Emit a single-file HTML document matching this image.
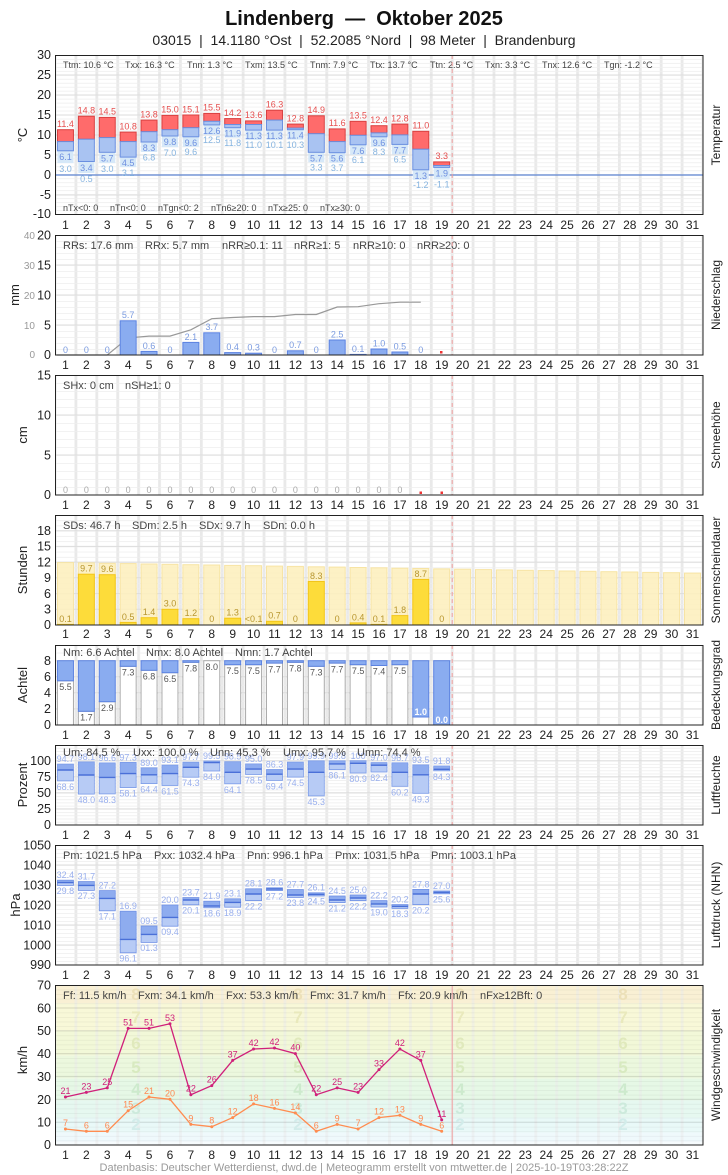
<!DOCTYPE html>
<html><head><meta charset="utf-8"><style>
html,body{margin:0;padding:0;background:#fff;}
svg{display:block;font-family:"Liberation Sans",Arial,sans-serif;}
.tk{font-size:12.5px;fill:#222;text-anchor:end}
.tk2{font-size:10px;fill:#999;text-anchor:end}
.dl{font-size:12px;fill:#222;text-anchor:middle}
.st{font-size:11px;fill:#444}
.st9{font-size:9px;fill:#444}
.yt{font-size:13px;fill:#222;text-anchor:middle}
.rt{font-size:12px;fill:#222;text-anchor:middle}
.tr{font-size:9px;fill:#e65050;text-anchor:middle}
.tb{font-size:9px;fill:#6d8fe0;text-anchor:middle}
.tg{font-size:9px;fill:#86b4e0;text-anchor:middle}
.pb{font-size:9px;fill:#7b9be0;text-anchor:middle}
.sl{font-size:9px;fill:#b8962e;text-anchor:middle}
.cl{font-size:9px;fill:#555;text-anchor:middle}
.cw{font-size:9px;fill:#fff;font-weight:bold;text-anchor:middle}
.hl{font-size:9px;fill:#9ab0ee;text-anchor:middle}
.wg{font-size:9px;fill:#d0207a;text-anchor:middle}
.wm{font-size:9px;fill:#ff8850;text-anchor:middle}
.bn{font-size:17px;font-weight:bold;text-anchor:middle}
</style></head><body>
<svg width="728" height="1175" viewBox="0 0 728 1175" xmlns="http://www.w3.org/2000/svg">
<defs>
<pattern id="vg" x="53.6" y="0" width="20.903" height="200" patternUnits="userSpaceOnUse"><rect width="2.8" height="200" fill="#e9e9e9"/></pattern>
<pattern id="hT" x="0" y="214" width="728" height="3.975" patternUnits="userSpaceOnUse"><rect width="728" height="0.8" fill="#eeeeee"/></pattern>
<pattern id="hP" x="0" y="355" width="728" height="6" patternUnits="userSpaceOnUse"><rect width="728" height="0.8" fill="#eeeeee"/></pattern>
<pattern id="hS" x="0" y="495" width="728" height="8" patternUnits="userSpaceOnUse"><rect width="728" height="0.8" fill="#eeeeee"/></pattern>
<pattern id="hSo" x="0" y="625" width="728" height="5.24" patternUnits="userSpaceOnUse"><rect width="728" height="0.8" fill="#eeeeee"/></pattern>
<pattern id="hC" x="0" y="725" width="728" height="8.04" patternUnits="userSpaceOnUse"><rect width="728" height="0.8" fill="#eeeeee"/></pattern>
<pattern id="hH" x="0" y="825" width="728" height="3.215" patternUnits="userSpaceOnUse"><rect width="728" height="0.8" fill="#eeeeee"/></pattern>
<pattern id="hD" x="0" y="965" width="728" height="4" patternUnits="userSpaceOnUse"><rect width="728" height="0.8" fill="#eeeeee"/></pattern>
<pattern id="hW" x="0" y="1145" width="728" height="4.572" patternUnits="userSpaceOnUse"><rect width="728" height="0.8" fill="rgba(0,0,0,0.05)"/></pattern>
</defs>

<!-- Header -->
<text x="364" y="25" text-anchor="middle" style="font-size:20px;font-weight:bold;fill:#111">Lindenberg&#160; — &#160;Oktober 2025</text>
<text x="364" y="45" text-anchor="middle" style="font-size:14px;fill:#222">03015&#160; |&#160; 14.1180 °Ost&#160; |&#160; 52.2085 °Nord&#160; |&#160; 98 Meter&#160; |&#160; Brandenburg</text>

<!-- ============ TEMPERATUR ============ -->
<rect x="55" y="55" width="648" height="159" fill="url(#vg)"/>
<rect x="55" y="55" width="648" height="159" fill="url(#hT)"/>
<g stroke="#dddddd" stroke-width="1">
<line x1="55" x2="703" y1="75" y2="75"/><line x1="55" x2="703" y1="95" y2="95"/><line x1="55" x2="703" y1="115" y2="115"/><line x1="55" x2="703" y1="135" y2="135"/><line x1="55" x2="703" y1="155" y2="155"/><line x1="55" x2="703" y1="195" y2="195"/>
</g>
<line x1="55" x2="703" y1="175" y2="175" stroke="#5b82d0" stroke-width="1.2"/>
<g stroke-width="1">
<rect x="57.45" y="150.8" width="16" height="12.3" fill="#d6e8f8"/><rect x="57.45" y="129.7" width="16" height="11.9" fill="#ff6b6b" stroke="#d84040"/><rect x="57.45" y="141.6" width="16" height="9.2" fill="#a9c3f2" stroke="#6a8fe0"/>
<rect x="78.35" y="161.5" width="16" height="11.5" fill="#d6e8f8"/><rect x="78.35" y="116.2" width="16" height="23" fill="#ff6b6b" stroke="#d84040"/><rect x="78.35" y="139.2" width="16" height="22.3" fill="#a9c3f2" stroke="#6a8fe0"/>
<rect x="99.26" y="152.3" width="16" height="10.8" fill="#d6e8f8"/><rect x="99.26" y="117.4" width="16" height="20.2" fill="#ff6b6b" stroke="#d84040"/><rect x="99.26" y="137.6" width="16" height="14.7" fill="#a9c3f2" stroke="#6a8fe0"/>
<rect x="120.16" y="157.1" width="16" height="10" fill="#d6e8f8"/><rect x="120.16" y="132.1" width="16" height="9.5" fill="#ff6b6b" stroke="#d84040"/><rect x="120.16" y="141.6" width="16" height="15.5" fill="#a9c3f2" stroke="#6a8fe0"/>
<rect x="141.06" y="142" width="16" height="10" fill="#d6e8f8"/><rect x="141.06" y="120.1" width="16" height="11.6" fill="#ff6b6b" stroke="#d84040"/><rect x="141.06" y="131.7" width="16" height="10.3" fill="#a9c3f2" stroke="#6a8fe0"/>
<rect x="161.97" y="136" width="16" height="11.2" fill="#d6e8f8"/><rect x="161.97" y="115.4" width="16" height="14.3" fill="#ff6b6b" stroke="#d84040"/><rect x="161.97" y="129.7" width="16" height="6.3" fill="#a9c3f2" stroke="#6a8fe0"/>
<rect x="182.87" y="136.8" width="16" height="10" fill="#d6e8f8"/><rect x="182.87" y="115" width="16" height="12.7" fill="#ff6b6b" stroke="#d84040"/><rect x="182.87" y="127.7" width="16" height="9.1" fill="#a9c3f2" stroke="#6a8fe0"/>
<rect x="203.77" y="124.9" width="16" height="10" fill="#d6e8f8"/><rect x="203.77" y="113.4" width="16" height="7.9" fill="#ff6b6b" stroke="#d84040"/><rect x="203.77" y="121.3" width="16" height="3.6" fill="#a9c3f2" stroke="#6a8fe0"/>
<rect x="224.68" y="127.7" width="16" height="10" fill="#d6e8f8"/><rect x="224.68" y="118.6" width="16" height="5.9" fill="#ff6b6b" stroke="#d84040"/><rect x="224.68" y="124.5" width="16" height="3.2" fill="#a9c3f2" stroke="#6a8fe0"/>
<rect x="245.58" y="130.1" width="16" height="10" fill="#d6e8f8"/><rect x="245.58" y="120.9" width="16" height="3.6" fill="#ff6b6b" stroke="#d84040"/><rect x="245.58" y="124.5" width="16" height="5.6" fill="#a9c3f2" stroke="#6a8fe0"/>
<rect x="266.48" y="130.1" width="16" height="10" fill="#d6e8f8"/><rect x="266.48" y="110.2" width="16" height="9.9" fill="#ff6b6b" stroke="#d84040"/><rect x="266.48" y="120.1" width="16" height="10" fill="#a9c3f2" stroke="#6a8fe0"/>
<rect x="287.39" y="129.7" width="16" height="10" fill="#d6e8f8"/><rect x="287.39" y="124.1" width="16" height="4" fill="#ff6b6b" stroke="#d84040"/><rect x="287.39" y="128.1" width="16" height="1.6" fill="#a9c3f2" stroke="#6a8fe0"/>
<rect x="308.29" y="152.3" width="16" height="10" fill="#d6e8f8"/><rect x="308.29" y="115.8" width="16" height="17.9" fill="#ff6b6b" stroke="#d84040"/><rect x="308.29" y="133.7" width="16" height="18.6" fill="#a9c3f2" stroke="#6a8fe0"/>
<rect x="329.19" y="152.7" width="16" height="10" fill="#d6e8f8"/><rect x="329.19" y="128.9" width="16" height="12.7" fill="#ff6b6b" stroke="#d84040"/><rect x="329.19" y="141.6" width="16" height="11.1" fill="#a9c3f2" stroke="#6a8fe0"/>
<rect x="350.1" y="144.8" width="16" height="10" fill="#d6e8f8"/><rect x="350.1" y="121.3" width="16" height="14" fill="#ff6b6b" stroke="#d84040"/><rect x="350.1" y="135.3" width="16" height="9.5" fill="#a9c3f2" stroke="#6a8fe0"/>
<rect x="371" y="136.8" width="16" height="10" fill="#d6e8f8"/><rect x="371" y="125.7" width="16" height="7.2" fill="#ff6b6b" stroke="#d84040"/><rect x="371" y="132.9" width="16" height="3.9" fill="#a9c3f2" stroke="#6a8fe0"/>
<rect x="391.9" y="144.4" width="16" height="10" fill="#d6e8f8"/><rect x="391.9" y="124.1" width="16" height="10.8" fill="#ff6b6b" stroke="#d84040"/><rect x="391.9" y="134.9" width="16" height="9.5" fill="#a9c3f2" stroke="#6a8fe0"/>
<rect x="412.8" y="169.8" width="16" height="10" fill="#d6e8f8"/><rect x="412.8" y="131.3" width="16" height="17.9" fill="#ff6b6b" stroke="#d84040"/><rect x="412.8" y="149.2" width="16" height="20.6" fill="#a9c3f2" stroke="#6a8fe0"/>
<rect x="433.7" y="167.4" width="16" height="12" fill="#d6e8f8"/><rect x="433.7" y="161.9" width="16" height="3.6" fill="#ff6b6b" stroke="#d84040"/><rect x="433.7" y="165.5" width="16" height="1.9" fill="#a9c3f2" stroke="#6a8fe0"/>
</g>
<g>
<text class="tr" x="65.45" y="127">11.4</text><text class="tb" x="65.45" y="160">6.1</text><text class="tg" x="65.45" y="172">3.0</text>
<text class="tr" x="86.35" y="113.5">14.8</text><text class="tb" x="86.35" y="171">3.4</text><text class="tg" x="86.35" y="182">0.5</text>
<text class="tr" x="107.26" y="114.7">14.5</text><text class="tb" x="107.26" y="161.5">5.7</text><text class="tg" x="107.26" y="172">3.0</text>
<text class="tr" x="128.16" y="129.4">10.8</text><text class="tb" x="128.16" y="166">4.5</text><text class="tg" x="128.16" y="176">3.1</text>
<text class="tr" x="149.06" y="117.4">13.8</text><text class="tb" x="149.06" y="151">8.3</text><text class="tg" x="149.06" y="160.5">6.8</text>
<text class="tr" x="169.97" y="112.7">15.0</text><text class="tb" x="169.97" y="145">9.8</text><text class="tg" x="169.97" y="156">7.0</text>
<text class="tr" x="190.87" y="112.3">15.1</text><text class="tb" x="190.87" y="145.8">9.6</text><text class="tg" x="190.87" y="155">9.6</text>
<text class="tr" x="211.77" y="110.7">15.5</text><text class="tb" x="211.77" y="133.9">12.6</text><text class="tg" x="211.77" y="143">12.5</text>
<text class="tr" x="232.68" y="115.9">14.2</text><text class="tb" x="232.68" y="136.7">11.9</text><text class="tg" x="232.68" y="145.8">11.8</text>
<text class="tr" x="253.58" y="118.2">13.6</text><text class="tb" x="253.58" y="139.1">11.3</text><text class="tg" x="253.58" y="148.2">11.0</text>
<text class="tr" x="274.48" y="107.5">16.3</text><text class="tb" x="274.48" y="139.1">11.3</text><text class="tg" x="274.48" y="148.2">10.1</text>
<text class="tr" x="295.39" y="121.4">12.8</text><text class="tb" x="295.39" y="138.7">11.4</text><text class="tg" x="295.39" y="147.8">10.3</text>
<text class="tr" x="316.29" y="113.1">14.9</text><text class="tb" x="316.29" y="161.3">5.7</text><text class="tg" x="316.29" y="170.4">3.3</text>
<text class="tr" x="337.19" y="126.2">11.6</text><text class="tb" x="337.19" y="161.7">5.6</text><text class="tg" x="337.19" y="170.8">3.7</text>
<text class="tr" x="358.1" y="118.6">13.5</text><text class="tb" x="358.1" y="153.8">7.6</text><text class="tg" x="358.1" y="162.9">6.1</text>
<text class="tr" x="379" y="123">12.4</text><text class="tb" x="379" y="145.8">9.6</text><text class="tg" x="379" y="154.9">8.3</text>
<text class="tr" x="399.9" y="121.4">12.8</text><text class="tb" x="399.9" y="153.4">7.7</text><text class="tg" x="399.9" y="162.5">6.5</text>
<text class="tr" x="420.8" y="128.6">11.0</text><text class="tb" x="420.8" y="178.8">1.3</text><text class="tg" x="420.8" y="187.9">-1.2</text>
<text class="tr" x="441.7" y="159.2">3.3</text><text class="tb" x="441.7" y="176.4">1.9</text><text class="tg" x="441.7" y="187.5">-1.1</text>
</g>
<g class="st9">
<text x="63" y="68">Ttm: 10.6 °C</text><text x="125" y="68">Txx: 16.3 °C</text><text x="187" y="68">Tnn: 1.3 °C</text><text x="245" y="68">Txm: 13.5 °C</text><text x="310" y="68">Tnm: 7.9 °C</text><text x="370" y="68">Ttx: 13.7 °C</text><text x="430" y="68">Ttn: 2.5 °C</text><text x="485" y="68">Txn: 3.3 °C</text><text x="542" y="68">Tnx: 12.6 °C</text><text x="604" y="68">Tgn: -1.2 °C</text>
<text x="63" y="211">nTx&lt;0: 0</text><text x="110" y="211">nTn&lt;0: 0</text><text x="158" y="211">nTgn&lt;0: 2</text><text x="211" y="211">nTn6≥20: 0</text><text x="268" y="211">nTx≥25: 0</text><text x="320" y="211">nTx≥30: 0</text>
</g>
<line x1="452.2" x2="452.2" y1="55" y2="214" stroke="#f0a0a0" stroke-dasharray="4,3"/>
<rect x="55.5" y="55.5" width="647.5" height="159" fill="none" stroke="#222"/>
<g class="tk"><text x="51" y="59">30</text><text x="51" y="79">25</text><text x="51" y="99">20</text><text x="51" y="119">15</text><text x="51" y="139">10</text><text x="51" y="159">5</text><text x="51" y="179">0</text><text x="51" y="199">-5</text><text x="51" y="218">-10</text></g>
<text class="yt" transform="rotate(-90 27 135)" x="27" y="135">°C</text>
<text class="rt" transform="rotate(-90 720 135)" x="720" y="135">Temperatur</text>
<g class="dl"><text x="65.45" y="229">1</text><text x="86.35" y="229">2</text><text x="107.26" y="229">3</text><text x="128.16" y="229">4</text><text x="149.06" y="229">5</text><text x="169.97" y="229">6</text><text x="190.87" y="229">7</text><text x="211.77" y="229">8</text><text x="232.68" y="229">9</text><text x="253.58" y="229">10</text><text x="274.48" y="229">11</text><text x="295.39" y="229">12</text><text x="316.29" y="229">13</text><text x="337.19" y="229">14</text><text x="358.1" y="229">15</text><text x="379" y="229">16</text><text x="399.9" y="229">17</text><text x="420.8" y="229">18</text><text x="441.7" y="229">19</text><text x="462.6" y="229">20</text><text x="483.5" y="229">21</text><text x="504.4" y="229">22</text><text x="525.3" y="229">23</text><text x="546.2" y="229">24</text><text x="567.1" y="229">25</text><text x="588" y="229">26</text><text x="608.9" y="229">27</text><text x="629.8" y="229">28</text><text x="650.7" y="229">29</text><text x="671.6" y="229">30</text><text x="692.5" y="229">31</text></g>

<!-- ============ NIEDERSCHLAG ============ -->
<rect x="55" y="235" width="648" height="120" fill="url(#vg)"/>
<rect x="55" y="235" width="648" height="120" fill="url(#hP)"/>
<g stroke="#dddddd"><line x1="55" x2="703" y1="265" y2="265"/><line x1="55" x2="703" y1="295" y2="295"/><line x1="55" x2="703" y1="325" y2="325"/></g>
<polyline fill="none" stroke="#999" stroke-width="1.2" points="57,355 65.45,355 86.35,355 107.26,355 128.16,337.9 149.06,336.1 169.97,336.1 190.87,329.8 211.77,318.7 232.68,317.5 253.58,316.6 274.48,316.6 295.39,314.5 316.29,314.5 337.19,307 358.1,306.7 379,303.7 399.9,302.2 420.8,302.2"/>
<g fill="#8aacf0" stroke="#5b82e0">
<rect x="120.16" y="320.8" width="16" height="34.2"/><rect x="141.06" y="351.4" width="16" height="3.6"/><rect x="182.87" y="342.4" width="16" height="12.6"/><rect x="203.77" y="332.8" width="16" height="22.2"/><rect x="224.68" y="352.6" width="16" height="2.4"/><rect x="245.58" y="353.2" width="16" height="1.8"/><rect x="287.39" y="350.8" width="16" height="4.2"/><rect x="329.19" y="340" width="16" height="15"/><rect x="350.1" y="354.4" width="16" height="0.6"/><rect x="371" y="349" width="16" height="6"/><rect x="391.9" y="352" width="16" height="3"/>
</g>
<rect x="440" y="351" width="2.5" height="2.5" fill="#e33"/>
<g class="pb">
<text x="65.45" y="353">0</text><text x="86.35" y="353">0</text><text x="107.26" y="353">0</text><text x="128.16" y="318">5.7</text><text x="149.06" y="349">0.6</text><text x="169.97" y="353">0</text><text x="190.87" y="340">2.1</text><text x="211.77" y="330">3.7</text><text x="232.68" y="350">0.4</text><text x="253.58" y="350.5">0.3</text><text x="274.48" y="353">0</text><text x="295.39" y="348">0.7</text><text x="316.29" y="353">0</text><text x="337.19" y="337.5">2.5</text><text x="358.1" y="352">0.1</text><text x="379" y="346.5">1.0</text><text x="399.9" y="349.5">0.5</text><text x="420.8" y="353">0</text>
</g>
<g class="st"><text x="63" y="249">RRs: 17.6 mm</text><text x="145" y="249">RRx: 5.7 mm</text><text x="222" y="249">nRR≥0.1: 11</text><text x="294" y="249">nRR≥1: 5</text><text x="353" y="249">nRR≥10: 0</text><text x="417" y="249">nRR≥20: 0</text></g>
<line x1="452.2" x2="452.2" y1="235" y2="355" stroke="#f0a0a0" stroke-dasharray="4,3"/>
<rect x="55.5" y="235.5" width="647.5" height="119.5" fill="none" stroke="#222"/>
<g class="tk"><text x="51" y="239.5">20</text><text x="51" y="269.5">15</text><text x="51" y="299.5">10</text><text x="51" y="329.5">5</text><text x="51" y="359">0</text></g>
<g class="tk2"><text x="35" y="239">40</text><text x="35" y="269">30</text><text x="35" y="299">20</text><text x="35" y="329">10</text><text x="35" y="358">0</text></g>
<text class="yt" transform="rotate(-90 19 295)" x="19" y="295">mm</text>
<text class="rt" transform="rotate(-90 720 295)" x="720" y="295">Niederschlag</text>
<g class="dl"><text x="65.45" y="369">1</text><text x="86.35" y="369">2</text><text x="107.26" y="369">3</text><text x="128.16" y="369">4</text><text x="149.06" y="369">5</text><text x="169.97" y="369">6</text><text x="190.87" y="369">7</text><text x="211.77" y="369">8</text><text x="232.68" y="369">9</text><text x="253.58" y="369">10</text><text x="274.48" y="369">11</text><text x="295.39" y="369">12</text><text x="316.29" y="369">13</text><text x="337.19" y="369">14</text><text x="358.1" y="369">15</text><text x="379" y="369">16</text><text x="399.9" y="369">17</text><text x="420.8" y="369">18</text><text x="441.7" y="369">19</text><text x="462.6" y="369">20</text><text x="483.5" y="369">21</text><text x="504.4" y="369">22</text><text x="525.3" y="369">23</text><text x="546.2" y="369">24</text><text x="567.1" y="369">25</text><text x="588" y="369">26</text><text x="608.9" y="369">27</text><text x="629.8" y="369">28</text><text x="650.7" y="369">29</text><text x="671.6" y="369">30</text><text x="692.5" y="369">31</text></g>

<!-- ============ SCHNEEHÖHE ============ -->
<rect x="55" y="375" width="648" height="120" fill="url(#vg)"/>
<rect x="55" y="375" width="648" height="120" fill="url(#hS)"/>
<g stroke="#dddddd"><line x1="55" x2="703" y1="415" y2="415"/><line x1="55" x2="703" y1="455" y2="455"/></g>
<g class="cl" style="fill:#aaa">
<text x="65.45" y="493">0</text><text x="86.35" y="493">0</text><text x="107.26" y="493">0</text><text x="128.16" y="493">0</text><text x="149.06" y="493">0</text><text x="169.97" y="493">0</text><text x="190.87" y="493">0</text><text x="211.77" y="493">0</text><text x="232.68" y="493">0</text><text x="253.58" y="493">0</text><text x="274.48" y="493">0</text><text x="295.39" y="493">0</text><text x="316.29" y="493">0</text><text x="337.19" y="493">0</text><text x="358.1" y="493">0</text><text x="379" y="493">0</text><text x="399.9" y="493">0</text>
</g>
<rect x="419.5" y="491.5" width="2.5" height="2.5" fill="#e33"/><rect x="440.5" y="491.5" width="2.5" height="2.5" fill="#e33"/>
<g class="st"><text x="63" y="389">SHx: 0 cm</text><text x="125" y="389">nSH≥1: 0</text></g>
<line x1="452.2" x2="452.2" y1="375" y2="495" stroke="#f0a0a0" stroke-dasharray="4,3"/>
<rect x="55.5" y="375.5" width="647.5" height="119.5" fill="none" stroke="#222"/>
<g class="tk"><text x="51" y="379.5">15</text><text x="51" y="419.5">10</text><text x="51" y="459.5">5</text><text x="51" y="499">0</text></g>
<text class="yt" transform="rotate(-90 27 435)" x="27" y="435">cm</text>
<text class="rt" transform="rotate(-90 720 435)" x="720" y="435">Schneehöhe</text>
<g class="dl"><text x="65.45" y="509">1</text><text x="86.35" y="509">2</text><text x="107.26" y="509">3</text><text x="128.16" y="509">4</text><text x="149.06" y="509">5</text><text x="169.97" y="509">6</text><text x="190.87" y="509">7</text><text x="211.77" y="509">8</text><text x="232.68" y="509">9</text><text x="253.58" y="509">10</text><text x="274.48" y="509">11</text><text x="295.39" y="509">12</text><text x="316.29" y="509">13</text><text x="337.19" y="509">14</text><text x="358.1" y="509">15</text><text x="379" y="509">16</text><text x="399.9" y="509">17</text><text x="420.8" y="509">18</text><text x="441.7" y="509">19</text><text x="462.6" y="509">20</text><text x="483.5" y="509">21</text><text x="504.4" y="509">22</text><text x="525.3" y="509">23</text><text x="546.2" y="509">24</text><text x="567.1" y="509">25</text><text x="588" y="509">26</text><text x="608.9" y="509">27</text><text x="629.8" y="509">28</text><text x="650.7" y="509">29</text><text x="671.6" y="509">30</text><text x="692.5" y="509">31</text></g>

<!-- ============ SONNENSCHEIN ============ -->
<rect x="55" y="515" width="648" height="110" fill="url(#vg)"/>
<rect x="55" y="515" width="648" height="110" fill="url(#hSo)"/>
<g stroke="#dddddd"><line x1="55" x2="703" y1="530.7" y2="530.7"/><line x1="55" x2="703" y1="546.4" y2="546.4"/><line x1="55" x2="703" y1="562.1" y2="562.1"/><line x1="55" x2="703" y1="577.8" y2="577.8"/><line x1="55" x2="703" y1="593.6" y2="593.6"/><line x1="55" x2="703" y1="609.3" y2="609.3"/></g>
<g fill="#fdf0bf" stroke="#f7e4a4" fill-opacity="0.9">
<rect x="57.45" y="562.6" width="16" height="62.4"/><rect x="78.35" y="562.9" width="16" height="62.1"/><rect x="99.26" y="563.3" width="16" height="61.7"/><rect x="120.16" y="563.6" width="16" height="61.4"/><rect x="141.06" y="564" width="16" height="61"/><rect x="161.97" y="564.3" width="16" height="60.7"/><rect x="182.87" y="564.7" width="16" height="60.3"/><rect x="203.77" y="565" width="16" height="60"/><rect x="224.68" y="565.4" width="16" height="59.6"/><rect x="245.58" y="565.7" width="16" height="59.3"/><rect x="266.48" y="566.1" width="16" height="58.9"/><rect x="287.39" y="566.4" width="16" height="58.6"/><rect x="308.29" y="566.8" width="16" height="58.2"/><rect x="329.19" y="567.1" width="16" height="57.9"/><rect x="350.1" y="567.5" width="16" height="57.5"/><rect x="371" y="567.8" width="16" height="57.2"/><rect x="391.9" y="568.2" width="16" height="56.8"/><rect x="412.8" y="568.5" width="16" height="56.5"/><rect x="433.7" y="568.9" width="16" height="56.1"/><rect x="454.6" y="569.2" width="16" height="55.8"/><rect x="475.5" y="569.6" width="16" height="55.4"/><rect x="496.4" y="569.9" width="16" height="55.1"/><rect x="517.3" y="570.3" width="16" height="54.7"/><rect x="538.2" y="570.6" width="16" height="54.4"/><rect x="559.1" y="571" width="16" height="54"/><rect x="580" y="571.3" width="16" height="53.7"/><rect x="600.9" y="571.7" width="16" height="53.3"/><rect x="621.8" y="572" width="16" height="53"/><rect x="642.7" y="572.4" width="16" height="52.6"/><rect x="663.6" y="572.7" width="16" height="52.3"/><rect x="684.5" y="573.1" width="16" height="51.9"/>
</g>
<g fill="#fddc3a" stroke="#f2c51a">
<rect x="57.45" y="624.4" width="16" height="0.6"/><rect x="78.35" y="574.2" width="16" height="50.8"/><rect x="99.26" y="574.7" width="16" height="50.3"/><rect x="120.16" y="622.4" width="16" height="2.6"/><rect x="141.06" y="617.7" width="16" height="7.3"/><rect x="161.97" y="609.3" width="16" height="15.7"/><rect x="182.87" y="618.7" width="16" height="6.3"/><rect x="224.68" y="618.2" width="16" height="6.8"/><rect x="266.48" y="621.3" width="16" height="3.7"/><rect x="308.29" y="581.5" width="16" height="43.5"/><rect x="350.1" y="622.9" width="16" height="2.1"/><rect x="371" y="624.4" width="16" height="0.6"/><rect x="391.9" y="615.6" width="16" height="9.4"/><rect x="412.8" y="579.4" width="16" height="45.6"/>
</g>
<g class="sl">
<text x="65.45" y="622">0.1</text><text x="86.35" y="571.5">9.7</text><text x="107.26" y="572">9.6</text><text x="128.16" y="620">0.5</text><text x="149.06" y="615">1.4</text><text x="169.97" y="606.5">3.0</text><text x="190.87" y="616">1.2</text><text x="211.77" y="622">0</text><text x="232.68" y="615.5">1.3</text><text x="253.58" y="622">&lt;0.1</text><text x="274.48" y="618.5">0.7</text><text x="295.39" y="622">0</text><text x="316.29" y="579">8.3</text><text x="337.19" y="622">0</text><text x="358.1" y="620.5">0.4</text><text x="379" y="622">0.1</text><text x="399.9" y="613">1.8</text><text x="420.8" y="577">8.7</text><text x="441.7" y="622">0</text>
</g>
<g class="st"><text x="63" y="529">SDs: 46.7 h</text><text x="132" y="529">SDm: 2.5 h</text><text x="199" y="529">SDx: 9.7 h</text><text x="263" y="529">SDn: 0.0 h</text></g>
<line x1="452.2" x2="452.2" y1="515" y2="625" stroke="#f0a0a0" stroke-dasharray="4,3"/>
<rect x="55.5" y="515.5" width="647.5" height="109.5" fill="none" stroke="#222"/>
<g class="tk"><text x="51" y="535">18</text><text x="51" y="550.7">15</text><text x="51" y="566.4">12</text><text x="51" y="582">9</text><text x="51" y="597.8">6</text><text x="51" y="613.5">3</text><text x="51" y="629">0</text></g>
<text class="yt" transform="rotate(-90 27 570)" x="27" y="570">Stunden</text>
<text class="rt" transform="rotate(-90 720 570)" x="720" y="570">Sonnenscheindauer</text>
<g class="dl"><text x="65.45" y="638">1</text><text x="86.35" y="638">2</text><text x="107.26" y="638">3</text><text x="128.16" y="638">4</text><text x="149.06" y="638">5</text><text x="169.97" y="638">6</text><text x="190.87" y="638">7</text><text x="211.77" y="638">8</text><text x="232.68" y="638">9</text><text x="253.58" y="638">10</text><text x="274.48" y="638">11</text><text x="295.39" y="638">12</text><text x="316.29" y="638">13</text><text x="337.19" y="638">14</text><text x="358.1" y="638">15</text><text x="379" y="638">16</text><text x="399.9" y="638">17</text><text x="420.8" y="638">18</text><text x="441.7" y="638">19</text><text x="462.6" y="638">20</text><text x="483.5" y="638">21</text><text x="504.4" y="638">22</text><text x="525.3" y="638">23</text><text x="546.2" y="638">24</text><text x="567.1" y="638">25</text><text x="588" y="638">26</text><text x="608.9" y="638">27</text><text x="629.8" y="638">28</text><text x="650.7" y="638">29</text><text x="671.6" y="638">30</text><text x="692.5" y="638">31</text></g>

<!-- ============ BEDECKUNG ============ -->
<rect x="55" y="645" width="648" height="80" fill="url(#vg)"/>
<rect x="55" y="645" width="648" height="80" fill="url(#hC)"/>
<g stroke="#dddddd"><line x1="55" x2="703" y1="660.7" y2="660.7"/><line x1="55" x2="703" y1="676.8" y2="676.8"/><line x1="55" x2="703" y1="692.8" y2="692.8"/><line x1="55" x2="703" y1="708.9" y2="708.9"/></g>
<g fill="#fff" stroke="#aaa">
<rect x="57.45" y="680.8" width="16" height="44.2"/><rect x="78.35" y="711.3" width="16" height="13.7"/><rect x="99.26" y="701.7" width="16" height="23.3"/><rect x="120.16" y="666.3" width="16" height="58.7"/><rect x="141.06" y="670.3" width="16" height="54.7"/><rect x="161.97" y="672.7" width="16" height="52.3"/><rect x="182.87" y="662.3" width="16" height="62.7"/><rect x="203.77" y="660.7" width="16" height="64.3"/><rect x="224.68" y="664.7" width="16" height="60.3"/><rect x="245.58" y="664.7" width="16" height="60.3"/><rect x="266.48" y="663.1" width="16" height="61.9"/><rect x="287.39" y="662.3" width="16" height="62.7"/><rect x="308.29" y="666.3" width="16" height="58.7"/><rect x="329.19" y="663.1" width="16" height="61.9"/><rect x="350.1" y="664.7" width="16" height="60.3"/><rect x="371" y="665.5" width="16" height="59.5"/><rect x="391.9" y="664.7" width="16" height="60.3"/><rect x="412.8" y="717" width="16" height="8"/>
</g>
<g fill="#8aacf0" stroke="#5b82e0">
<rect x="57.45" y="660.7" width="16" height="20.1"/><rect x="78.35" y="660.7" width="16" height="50.6"/><rect x="99.26" y="660.7" width="16" height="41"/><rect x="120.16" y="660.7" width="16" height="5.6"/><rect x="141.06" y="660.7" width="16" height="9.6"/><rect x="161.97" y="660.7" width="16" height="12"/><rect x="182.87" y="660.7" width="16" height="1.6"/><rect x="224.68" y="660.7" width="16" height="4"/><rect x="245.58" y="660.7" width="16" height="4"/><rect x="266.48" y="660.7" width="16" height="2.4"/><rect x="287.39" y="660.7" width="16" height="1.6"/><rect x="308.29" y="660.7" width="16" height="5.6"/><rect x="329.19" y="660.7" width="16" height="2.4"/><rect x="350.1" y="660.7" width="16" height="4"/><rect x="371" y="660.7" width="16" height="4.8"/><rect x="391.9" y="660.7" width="16" height="4"/><rect x="412.8" y="660.7" width="16" height="56.3"/><rect x="433.7" y="660.7" width="16" height="64.3"/>
</g>
<g class="cl">
<text x="65.45" y="690">5.5</text><text x="86.35" y="720.5">1.7</text><text x="107.26" y="711">2.9</text><text x="128.16" y="675.5">7.3</text><text x="149.06" y="679.5">6.8</text><text x="169.97" y="682">6.5</text><text x="190.87" y="671.5">7.8</text><text x="211.77" y="670">8.0</text><text x="232.68" y="674">7.5</text><text x="253.58" y="674">7.5</text><text x="274.48" y="672.3">7.7</text><text x="295.39" y="671.5">7.8</text><text x="316.29" y="675.5">7.3</text><text x="337.19" y="672.3">7.7</text><text x="358.1" y="674">7.5</text><text x="379" y="674.7">7.4</text><text x="399.9" y="674">7.5</text>
</g>
<text class="cw" x="420.8" y="715">1.0</text><text class="cw" x="441.7" y="723">0.0</text>
<g class="st"><text x="63" y="656">Nm: 6.6 Achtel</text><text x="146" y="656">Nmx: 8.0 Achtel</text><text x="235" y="656">Nmn: 1.7 Achtel</text></g>
<line x1="452.2" x2="452.2" y1="645" y2="725" stroke="#f0a0a0" stroke-dasharray="4,3"/>
<rect x="55.5" y="645.5" width="647.5" height="79.5" fill="none" stroke="#222"/>
<g class="tk"><text x="51" y="665">8</text><text x="51" y="681">6</text><text x="51" y="697">4</text><text x="51" y="713">2</text><text x="51" y="729">0</text></g>
<text class="yt" transform="rotate(-90 27 685)" x="27" y="685">Achtel</text>
<text class="rt" transform="rotate(-90 720 685)" x="720" y="685">Bedeckungsgrad</text>
<g class="dl"><text x="65.45" y="739">1</text><text x="86.35" y="739">2</text><text x="107.26" y="739">3</text><text x="128.16" y="739">4</text><text x="149.06" y="739">5</text><text x="169.97" y="739">6</text><text x="190.87" y="739">7</text><text x="211.77" y="739">8</text><text x="232.68" y="739">9</text><text x="253.58" y="739">10</text><text x="274.48" y="739">11</text><text x="295.39" y="739">12</text><text x="316.29" y="739">13</text><text x="337.19" y="739">14</text><text x="358.1" y="739">15</text><text x="379" y="739">16</text><text x="399.9" y="739">17</text><text x="420.8" y="739">18</text><text x="441.7" y="739">19</text><text x="462.6" y="739">20</text><text x="483.5" y="739">21</text><text x="504.4" y="739">22</text><text x="525.3" y="739">23</text><text x="546.2" y="739">24</text><text x="567.1" y="739">25</text><text x="588" y="739">26</text><text x="608.9" y="739">27</text><text x="629.8" y="739">28</text><text x="650.7" y="739">29</text><text x="671.6" y="739">30</text><text x="692.5" y="739">31</text></g>

<!-- ============ LUFTFEUCHTE ============ -->
<rect x="55" y="745" width="648" height="80" fill="url(#vg)"/>
<rect x="55" y="745" width="648" height="80" fill="url(#hH)"/>
<g stroke="#dddddd"><line x1="55" x2="703" y1="760.7" y2="760.7"/><line x1="55" x2="703" y1="776.8" y2="776.8"/><line x1="55" x2="703" y1="792.8" y2="792.8"/><line x1="55" x2="703" y1="808.9" y2="808.9"/></g>
<g stroke="#7b9be8" stroke-width="0.8">
<rect x="57.45" y="764.1" width="16" height="5.9" fill="#8eacef"/><rect x="57.45" y="770" width="16" height="10.9" fill="#b7cbf5"/>
<rect x="78.35" y="761.9" width="16" height="13.1" fill="#8eacef"/><rect x="78.35" y="775" width="16" height="19.1" fill="#b7cbf5"/>
<rect x="99.26" y="762.9" width="16" height="14.5" fill="#8eacef"/><rect x="99.26" y="777.4" width="16" height="16.5" fill="#b7cbf5"/>
<rect x="120.16" y="762.4" width="16" height="11.2" fill="#8eacef"/><rect x="120.16" y="773.6" width="16" height="14" fill="#b7cbf5"/>
<rect x="141.06" y="767.8" width="16" height="7" fill="#8eacef"/><rect x="141.06" y="774.8" width="16" height="8.8" fill="#b7cbf5"/>
<rect x="161.97" y="765.1" width="16" height="8.5" fill="#8eacef"/><rect x="161.97" y="773.6" width="16" height="11.9" fill="#b7cbf5"/>
<rect x="182.87" y="762.2" width="16" height="5.1" fill="#8eacef"/><rect x="182.87" y="767.3" width="16" height="9.9" fill="#b7cbf5"/>
<rect x="203.77" y="761" width="16" height="1.6" fill="#8eacef"/><rect x="203.77" y="762.6" width="16" height="8.4" fill="#b7cbf5"/>
<rect x="224.68" y="761.7" width="16" height="10.6" fill="#8eacef"/><rect x="224.68" y="772.3" width="16" height="11.5" fill="#b7cbf5"/>
<rect x="245.58" y="763.9" width="16" height="5.2" fill="#8eacef"/><rect x="245.58" y="769.1" width="16" height="5.4" fill="#b7cbf5"/>
<rect x="266.48" y="769.5" width="16" height="4.7" fill="#8eacef"/><rect x="266.48" y="774.2" width="16" height="6.2" fill="#b7cbf5"/>
<rect x="287.39" y="762.1" width="16" height="7" fill="#8eacef"/><rect x="287.39" y="769.1" width="16" height="8" fill="#b7cbf5"/>
<rect x="308.29" y="760.8" width="16" height="11.5" fill="#8eacef"/><rect x="308.29" y="772.3" width="16" height="23.6" fill="#b7cbf5"/>
<rect x="329.19" y="760.8" width="16" height="3.1" fill="#8eacef"/><rect x="329.19" y="763.9" width="16" height="5.7" fill="#b7cbf5"/>
<rect x="350.1" y="760.7" width="16" height="2.6" fill="#8eacef"/><rect x="350.1" y="763.3" width="16" height="9.7" fill="#b7cbf5"/>
<rect x="371" y="762.6" width="16" height="2.6" fill="#8eacef"/><rect x="371" y="765.2" width="16" height="6.8" fill="#b7cbf5"/>
<rect x="391.9" y="762.8" width="16" height="9.5" fill="#8eacef"/><rect x="391.9" y="772.3" width="16" height="14" fill="#b7cbf5"/>
<rect x="412.8" y="764.9" width="16" height="9.9" fill="#8eacef"/><rect x="412.8" y="774.8" width="16" height="18.5" fill="#b7cbf5"/>
<rect x="433.7" y="766" width="16" height="3.3" fill="#8eacef"/><rect x="433.7" y="769.3" width="16" height="1.5" fill="#b7cbf5"/>
</g>
<g stroke="#4a70d8" stroke-width="1.4">
<line x1="57.45" x2="73.45" y1="770" y2="770"/><line x1="78.35" x2="94.35" y1="775" y2="775"/><line x1="99.26" x2="115.26" y1="777.4" y2="777.4"/><line x1="120.16" x2="136.16" y1="773.6" y2="773.6"/><line x1="141.06" x2="157.06" y1="774.8" y2="774.8"/><line x1="161.97" x2="177.97" y1="773.6" y2="773.6"/><line x1="182.87" x2="198.87" y1="767.3" y2="767.3"/><line x1="203.77" x2="219.77" y1="762.6" y2="762.6"/><line x1="224.68" x2="240.68" y1="772.3" y2="772.3"/><line x1="245.58" x2="261.58" y1="769.1" y2="769.1"/><line x1="266.48" x2="282.48" y1="774.2" y2="774.2"/><line x1="287.39" x2="303.39" y1="769.1" y2="769.1"/><line x1="308.29" x2="324.29" y1="772.3" y2="772.3"/><line x1="329.19" x2="345.19" y1="763.9" y2="763.9"/><line x1="350.1" x2="366.1" y1="763.3" y2="763.3"/><line x1="371" x2="387" y1="765.2" y2="765.2"/><line x1="391.9" x2="407.9" y1="772.3" y2="772.3"/><line x1="412.8" x2="428.8" y1="774.8" y2="774.8"/><line x1="433.7" x2="449.7" y1="769.3" y2="769.3"/>
</g>
<g class="hl">
<text x="65.45" y="762">94.7</text><text x="65.45" y="790">68.6</text>
<text x="86.35" y="760">98.1</text><text x="86.35" y="803">48.0</text>
<text x="107.26" y="761">96.6</text><text x="107.26" y="803">48.3</text>
<text x="128.16" y="760.5">97.3</text><text x="128.16" y="796.5">58.1</text>
<text x="149.06" y="765.8">89.0</text><text x="149.06" y="792.5">64.4</text>
<text x="169.97" y="763">93.1</text><text x="169.97" y="794.5">61.5</text>
<text x="190.87" y="760">97.7</text><text x="190.87" y="786">74.3</text>
<text x="211.77" y="759">99.5</text><text x="211.77" y="780">84.0</text>
<text x="232.68" y="759.7">98.5</text><text x="232.68" y="792.8">64.1</text>
<text x="253.58" y="762">95.0</text><text x="253.58" y="783.5">78.5</text>
<text x="274.48" y="767.5">86.3</text><text x="274.48" y="789.4">69.4</text>
<text x="295.39" y="760">97.9</text><text x="295.39" y="786">74.5</text>
<text x="316.29" y="759">99.9</text><text x="316.29" y="805">45.3</text>
<text x="337.19" y="759">99.8</text><text x="337.19" y="778.6">86.1</text>
<text x="358.1" y="759">100</text><text x="358.1" y="782">80.9</text>
<text x="379" y="760.6">97.0</text><text x="379" y="781">82.4</text>
<text x="399.9" y="760.8">96.7</text><text x="399.9" y="795.3">60.2</text>
<text x="420.8" y="763">93.5</text><text x="420.8" y="802.3">49.3</text>
<text x="441.7" y="764">91.8</text><text x="441.7" y="779.8">84.3</text>
</g>
<g class="st"><text x="63" y="756">Um: 84,5 %</text><text x="133" y="756">Uxx: 100,0 %</text><text x="210" y="756">Unn: 45,3 %</text><text x="283" y="756">Umx: 95,7 %</text><text x="357" y="756">Umn: 74,4 %</text></g>
<line x1="452.2" x2="452.2" y1="745" y2="825" stroke="#f0a0a0" stroke-dasharray="4,3"/>
<rect x="55.5" y="745.5" width="647.5" height="79.5" fill="none" stroke="#222"/>
<g class="tk"><text x="51" y="765">100</text><text x="51" y="781">75</text><text x="51" y="797">50</text><text x="51" y="813">25</text><text x="51" y="829">0</text></g>
<text class="yt" transform="rotate(-90 27 785)" x="27" y="785">Prozent</text>
<text class="rt" transform="rotate(-90 720 785)" x="720" y="785">Luftfeuchte</text>
<g class="dl"><text x="65.45" y="839">1</text><text x="86.35" y="839">2</text><text x="107.26" y="839">3</text><text x="128.16" y="839">4</text><text x="149.06" y="839">5</text><text x="169.97" y="839">6</text><text x="190.87" y="839">7</text><text x="211.77" y="839">8</text><text x="232.68" y="839">9</text><text x="253.58" y="839">10</text><text x="274.48" y="839">11</text><text x="295.39" y="839">12</text><text x="316.29" y="839">13</text><text x="337.19" y="839">14</text><text x="358.1" y="839">15</text><text x="379" y="839">16</text><text x="399.9" y="839">17</text><text x="420.8" y="839">18</text><text x="441.7" y="839">19</text><text x="462.6" y="839">20</text><text x="483.5" y="839">21</text><text x="504.4" y="839">22</text><text x="525.3" y="839">23</text><text x="546.2" y="839">24</text><text x="567.1" y="839">25</text><text x="588" y="839">26</text><text x="608.9" y="839">27</text><text x="629.8" y="839">28</text><text x="650.7" y="839">29</text><text x="671.6" y="839">30</text><text x="692.5" y="839">31</text></g>

<!-- ============ LUFTDRUCK ============ -->
<rect x="55" y="845" width="648" height="120" fill="url(#vg)"/>
<rect x="55" y="845" width="648" height="120" fill="url(#hD)"/>
<g stroke="#dddddd"><line x1="55" x2="703" y1="865" y2="865"/><line x1="55" x2="703" y1="885" y2="885"/><line x1="55" x2="703" y1="905" y2="905"/><line x1="55" x2="703" y1="925" y2="925"/><line x1="55" x2="703" y1="945" y2="945"/></g>
<g stroke="#6f90e4" stroke-width="0.8">
<rect x="57.45" y="880.2" width="16" height="2.4" fill="#8eacef"/><rect x="57.45" y="882.6" width="16" height="2.8" fill="#b7cbf5"/>
<rect x="78.35" y="881.6" width="16" height="3.8" fill="#8eacef"/><rect x="78.35" y="885.4" width="16" height="5" fill="#b7cbf5"/>
<rect x="99.26" y="890.6" width="16" height="7.8" fill="#8eacef"/><rect x="99.26" y="898.4" width="16" height="12.4" fill="#b7cbf5"/>
<rect x="120.16" y="911.2" width="16" height="28.2" fill="#8eacef"/><rect x="120.16" y="939.4" width="16" height="13.4" fill="#b7cbf5"/>
<rect x="141.06" y="926" width="16" height="8.4" fill="#8eacef"/><rect x="141.06" y="934.4" width="16" height="8" fill="#b7cbf5"/>
<rect x="161.97" y="905" width="16" height="12.4" fill="#8eacef"/><rect x="161.97" y="917.4" width="16" height="8.8" fill="#b7cbf5"/>
<rect x="182.87" y="897.6" width="16" height="2.4" fill="#8eacef"/><rect x="182.87" y="900" width="16" height="4.8" fill="#b7cbf5"/>
<rect x="203.77" y="901.2" width="16" height="4.8" fill="#8eacef"/><rect x="203.77" y="906" width="16" height="1.8" fill="#b7cbf5"/>
<rect x="224.68" y="898.8" width="16" height="3.6" fill="#8eacef"/><rect x="224.68" y="902.4" width="16" height="4.8" fill="#b7cbf5"/>
<rect x="245.58" y="888.8" width="16" height="5.2" fill="#8eacef"/><rect x="245.58" y="894" width="16" height="6.6" fill="#b7cbf5"/>
<rect x="266.48" y="887.8" width="16" height="1.2" fill="#8eacef"/><rect x="266.48" y="889" width="16" height="1.6" fill="#b7cbf5"/>
<rect x="287.39" y="889.6" width="16" height="5.4" fill="#8eacef"/><rect x="287.39" y="895" width="16" height="2.4" fill="#b7cbf5"/>
<rect x="308.29" y="892.8" width="16" height="1.6" fill="#8eacef"/><rect x="308.29" y="894.4" width="16" height="1.6" fill="#b7cbf5"/>
<rect x="329.19" y="896" width="16" height="4" fill="#8eacef"/><rect x="329.19" y="900" width="16" height="2.6" fill="#b7cbf5"/>
<rect x="350.1" y="895" width="16" height="3" fill="#8eacef"/><rect x="350.1" y="898" width="16" height="2.6" fill="#b7cbf5"/>
<rect x="371" y="900.6" width="16" height="3.4" fill="#8eacef"/><rect x="371" y="904" width="16" height="3" fill="#b7cbf5"/>
<rect x="391.9" y="904.6" width="16" height="1.8" fill="#8eacef"/><rect x="391.9" y="906.4" width="16" height="2" fill="#b7cbf5"/>
<rect x="412.8" y="889.4" width="16" height="4.6" fill="#8eacef"/><rect x="412.8" y="894" width="16" height="10.6" fill="#b7cbf5"/>
<rect x="433.7" y="891" width="16" height="1.4" fill="#8eacef"/><rect x="433.7" y="892.4" width="16" height="1.4" fill="#b7cbf5"/>
</g>
<g stroke="#4a70d8" stroke-width="1.4">
<line x1="57.45" x2="73.45" y1="882.6" y2="882.6"/><line x1="78.35" x2="94.35" y1="885.4" y2="885.4"/><line x1="99.26" x2="115.26" y1="898.4" y2="898.4"/><line x1="120.16" x2="136.16" y1="939.4" y2="939.4"/><line x1="141.06" x2="157.06" y1="934.4" y2="934.4"/><line x1="161.97" x2="177.97" y1="917.4" y2="917.4"/><line x1="182.87" x2="198.87" y1="900" y2="900"/><line x1="203.77" x2="219.77" y1="906" y2="906"/><line x1="224.68" x2="240.68" y1="902.4" y2="902.4"/><line x1="245.58" x2="261.58" y1="894" y2="894"/><line x1="266.48" x2="282.48" y1="889" y2="889"/><line x1="287.39" x2="303.39" y1="895" y2="895"/><line x1="308.29" x2="324.29" y1="894.4" y2="894.4"/><line x1="329.19" x2="345.19" y1="900" y2="900"/><line x1="350.1" x2="366.1" y1="898" y2="898"/><line x1="371" x2="387" y1="904" y2="904"/><line x1="391.9" x2="407.9" y1="906.4" y2="906.4"/><line x1="412.8" x2="428.8" y1="894" y2="894"/><line x1="433.7" x2="449.7" y1="892.4" y2="892.4"/>
</g>
<g class="hl">
<text x="65.45" y="878">32.4</text><text x="65.45" y="894">29.8</text>
<text x="86.35" y="879.5">31.7</text><text x="86.35" y="899">27.3</text>
<text x="107.26" y="888.5">27.2</text><text x="107.26" y="919.5">17.1</text>
<text x="128.16" y="909">16.9</text><text x="128.16" y="961.5">96.1</text>
<text x="149.06" y="924">09.5</text><text x="149.06" y="951">01.3</text>
<text x="169.97" y="903">20.0</text><text x="169.97" y="935">09.4</text>
<text x="190.87" y="895.5">23.7</text><text x="190.87" y="913.5">20.1</text>
<text x="211.77" y="899">21.9</text><text x="211.77" y="916.5">18.6</text>
<text x="232.68" y="896.7">23.1</text><text x="232.68" y="916">18.9</text>
<text x="253.58" y="886.7">28.1</text><text x="253.58" y="909.3">22.2</text>
<text x="274.48" y="885.7">28.6</text><text x="274.48" y="899.3">27.2</text>
<text x="295.39" y="887.5">27.7</text><text x="295.39" y="906">23.8</text>
<text x="316.29" y="890.7">26.1</text><text x="316.29" y="904.7">24.5</text>
<text x="337.19" y="894">24.5</text><text x="337.19" y="911.3">21.2</text>
<text x="358.1" y="893">25.0</text><text x="358.1" y="909.3">22.2</text>
<text x="379" y="898.5">22.2</text><text x="379" y="915.7">19.0</text>
<text x="399.9" y="902.5">20.2</text><text x="399.9" y="917">18.3</text>
<text x="420.8" y="887.3">27.8</text><text x="420.8" y="913.3">20.2</text>
<text x="441.7" y="889">27.0</text><text x="441.7" y="902.5">25.6</text>
</g>
<g class="st"><text x="63" y="859">Pm: 1021.5 hPa</text><text x="154" y="859">Pxx: 1032.4 hPa</text><text x="247" y="859">Pnn: 996.1 hPa</text><text x="335" y="859">Pmx: 1031.5 hPa</text><text x="431" y="859">Pmn: 1003.1 hPa</text></g>
<line x1="452.2" x2="452.2" y1="845" y2="965" stroke="#f0a0a0" stroke-dasharray="4,3"/>
<rect x="55.5" y="845.5" width="647.5" height="119.5" fill="none" stroke="#222"/>
<g class="tk"><text x="51" y="849.5">1050</text><text x="51" y="869.5">1040</text><text x="51" y="889.5">1030</text><text x="51" y="909.5">1020</text><text x="51" y="929.5">1010</text><text x="51" y="949.5">1000</text><text x="51" y="969">990</text></g>
<text class="yt" transform="rotate(-90 20 905)" x="20" y="905">hPa</text>
<text class="rt" transform="rotate(-90 720 905)" x="720" y="905">Luftdruck (NHN)</text>
<g class="dl"><text x="65.45" y="979">1</text><text x="86.35" y="979">2</text><text x="107.26" y="979">3</text><text x="128.16" y="979">4</text><text x="149.06" y="979">5</text><text x="169.97" y="979">6</text><text x="190.87" y="979">7</text><text x="211.77" y="979">8</text><text x="232.68" y="979">9</text><text x="253.58" y="979">10</text><text x="274.48" y="979">11</text><text x="295.39" y="979">12</text><text x="316.29" y="979">13</text><text x="337.19" y="979">14</text><text x="358.1" y="979">15</text><text x="379" y="979">16</text><text x="399.9" y="979">17</text><text x="420.8" y="979">18</text><text x="441.7" y="979">19</text><text x="462.6" y="979">20</text><text x="483.5" y="979">21</text><text x="504.4" y="979">22</text><text x="525.3" y="979">23</text><text x="546.2" y="979">24</text><text x="567.1" y="979">25</text><text x="588" y="979">26</text><text x="608.9" y="979">27</text><text x="629.8" y="979">28</text><text x="650.7" y="979">29</text><text x="671.6" y="979">30</text><text x="692.5" y="979">31</text></g>

<!-- ============ WIND ============ -->
<rect x="55" y="985" width="648" height="18.3" fill="#f9f0d4"/>
<rect x="55" y="1003.3" width="648" height="27.4" fill="#f8f8d8"/>
<rect x="55" y="1030.7" width="648" height="25.1" fill="#f2f8d8"/>
<rect x="55" y="1055.8" width="648" height="22.9" fill="#ecf8de"/>
<rect x="55" y="1078.7" width="648" height="21.7" fill="#e6f8e6"/>
<rect x="55" y="1100.4" width="648" height="17.2" fill="#e6f8f0"/>
<rect x="55" y="1117.6" width="648" height="14.8" fill="#e9f9f8"/>
<rect x="55" y="1132.4" width="648" height="9.2" fill="#eff9fc"/>
<rect x="55" y="1141.6" width="648" height="3.4" fill="#f6fbfd"/>
<rect x="55" y="985" width="648" height="160" fill="url(#vg)" opacity="0.5"/>
<rect x="55" y="985" width="648" height="160" fill="url(#hW)"/>
<g stroke="rgba(0,0,0,0.1)"><line x1="55" x2="703" y1="1007.9" y2="1007.9"/><line x1="55" x2="703" y1="1030.7" y2="1030.7"/><line x1="55" x2="703" y1="1053.6" y2="1053.6"/><line x1="55" x2="703" y1="1076.4" y2="1076.4"/><line x1="55" x2="703" y1="1099.3" y2="1099.3"/><line x1="55" x2="703" y1="1122.1" y2="1122.1"/></g>
<g class="bn">
<text x="136" y="1000" fill="#ece0b8">8</text><text x="298" y="1000" fill="#ece0b8">8</text><text x="460" y="1000" fill="#ece0b8">8</text><text x="623" y="1000" fill="#ece0b8">8</text>
<text x="136" y="1023" fill="#e9e9bc">7</text><text x="298" y="1023" fill="#e9e9bc">7</text><text x="460" y="1023" fill="#e9e9bc">7</text><text x="623" y="1023" fill="#e9e9bc">7</text>
<text x="136" y="1049" fill="#e0e9bc">6</text><text x="298" y="1049" fill="#e0e9bc">6</text><text x="460" y="1049" fill="#e0e9bc">6</text><text x="623" y="1049" fill="#e0e9bc">6</text>
<text x="136" y="1073" fill="#d8eac0">5</text><text x="298" y="1073" fill="#d8eac0">5</text><text x="460" y="1073" fill="#d8eac0">5</text><text x="623" y="1073" fill="#d8eac0">5</text>
<text x="136" y="1095" fill="#cdeacd">4</text><text x="298" y="1095" fill="#cdeacd">4</text><text x="460" y="1095" fill="#cdeacd">4</text><text x="623" y="1095" fill="#cdeacd">4</text>
<text x="136" y="1114" fill="#cdeadc">3</text><text x="298" y="1114" fill="#cdeadc">3</text><text x="460" y="1114" fill="#cdeadc">3</text><text x="623" y="1114" fill="#cdeadc">3</text>
<text x="136" y="1130" fill="#d2ecea">2</text><text x="298" y="1130" fill="#d2ecea">2</text><text x="460" y="1130" fill="#d2ecea">2</text><text x="623" y="1130" fill="#d2ecea">2</text>
</g>
<polyline fill="none" stroke="#ff8c50" stroke-width="1.3" points="65.45,1129 86.35,1131.3 107.26,1131.3 128.16,1110.7 149.06,1097 169.97,1099.3 190.87,1124.4 211.77,1126.7 232.68,1117.6 253.58,1103.9 274.48,1108.4 295.39,1113 316.29,1131.3 337.19,1124.4 358.1,1129 379,1117.6 399.9,1115.3 420.8,1124.4 441.7,1131.3"/>
<polyline fill="none" stroke="#d0207a" stroke-width="1.3" points="65.45,1097 86.35,1092.4 107.26,1087.9 128.16,1028.4 149.06,1028.4 169.97,1023.8 190.87,1094.7 211.77,1085.6 232.68,1060.4 253.58,1049 274.48,1048 295.39,1053.6 316.29,1094.7 337.19,1087.9 358.1,1092.4 379,1069.6 399.9,1049 420.8,1060.4 441.7,1119.9"/>
<g fill="#ff8c50">
<circle cx="65.45" cy="1129" r="1.5"/><circle cx="86.35" cy="1131.3" r="1.5"/><circle cx="107.26" cy="1131.3" r="1.5"/><circle cx="128.16" cy="1110.7" r="1.5"/><circle cx="149.06" cy="1097" r="1.5"/><circle cx="169.97" cy="1099.3" r="1.5"/><circle cx="190.87" cy="1124.4" r="1.5"/><circle cx="211.77" cy="1126.7" r="1.5"/><circle cx="232.68" cy="1117.6" r="1.5"/><circle cx="253.58" cy="1103.9" r="1.5"/><circle cx="274.48" cy="1108.4" r="1.5"/><circle cx="295.39" cy="1113" r="1.5"/><circle cx="316.29" cy="1131.3" r="1.5"/><circle cx="337.19" cy="1124.4" r="1.5"/><circle cx="358.1" cy="1129" r="1.5"/><circle cx="379" cy="1117.6" r="1.5"/><circle cx="399.9" cy="1115.3" r="1.5"/><circle cx="420.8" cy="1124.4" r="1.5"/><circle cx="441.7" cy="1131.3" r="1.5"/>
</g>
<g fill="#d0207a">
<circle cx="65.45" cy="1097" r="1.5"/><circle cx="86.35" cy="1092.4" r="1.5"/><circle cx="107.26" cy="1087.9" r="1.5"/><circle cx="128.16" cy="1028.4" r="1.5"/><circle cx="149.06" cy="1028.4" r="1.5"/><circle cx="169.97" cy="1023.8" r="1.5"/><circle cx="190.87" cy="1094.7" r="1.5"/><circle cx="211.77" cy="1085.6" r="1.5"/><circle cx="232.68" cy="1060.4" r="1.5"/><circle cx="253.58" cy="1049" r="1.5"/><circle cx="274.48" cy="1048" r="1.5"/><circle cx="295.39" cy="1053.6" r="1.5"/><circle cx="316.29" cy="1094.7" r="1.5"/><circle cx="337.19" cy="1087.9" r="1.5"/><circle cx="358.1" cy="1092.4" r="1.5"/><circle cx="379" cy="1069.6" r="1.5"/><circle cx="399.9" cy="1049" r="1.5"/><circle cx="420.8" cy="1060.4" r="1.5"/><circle cx="441.7" cy="1119.9" r="1.5"/>
</g>
<g class="wm">
<text x="65.45" y="1126">7</text><text x="86.35" y="1128.3">6</text><text x="107.26" y="1128.3">6</text><text x="128.16" y="1107.7">15</text><text x="149.06" y="1094">21</text><text x="169.97" y="1096.3">20</text><text x="190.87" y="1121.4">9</text><text x="211.77" y="1123.7">8</text><text x="232.68" y="1114.6">12</text><text x="253.58" y="1100.9">18</text><text x="274.48" y="1105.4">16</text><text x="295.39" y="1110">14</text><text x="316.29" y="1128.3">6</text><text x="337.19" y="1121.4">9</text><text x="358.1" y="1126">7</text><text x="379" y="1114.6">12</text><text x="399.9" y="1112.3">13</text><text x="420.8" y="1121.4">9</text><text x="441.7" y="1128.3">6</text>
</g>
<g class="wg">
<text x="65.45" y="1094">21</text><text x="86.35" y="1089.4">23</text><text x="107.26" y="1084.9">25</text><text x="128.16" y="1025.4">51</text><text x="149.06" y="1025.4">51</text><text x="169.97" y="1020.8">53</text><text x="190.87" y="1091.7">22</text><text x="211.77" y="1082.6">26</text><text x="232.68" y="1057.4">37</text><text x="253.58" y="1046">42</text><text x="274.48" y="1045">42</text><text x="295.39" y="1050.6">40</text><text x="316.29" y="1091.7">22</text><text x="337.19" y="1084.9">25</text><text x="358.1" y="1089.4">23</text><text x="379" y="1066.6">33</text><text x="399.9" y="1046">42</text><text x="420.8" y="1057.4">37</text><text x="441.7" y="1116.9">11</text>
</g>
<g class="st"><text x="63" y="999">Ff: 11.5 km/h</text><text x="138" y="999">Fxm: 34.1 km/h</text><text x="226" y="999">Fxx: 53.3 km/h</text><text x="310" y="999">Fmx: 31.7 km/h</text><text x="398" y="999">Ffx: 20.9 km/h</text><text x="480" y="999">nFx≥12Bft: 0</text></g>
<line x1="452.2" x2="452.2" y1="985" y2="1145" stroke="#f0a0a0" stroke-width="1"/>
<rect x="55.5" y="985.5" width="647.5" height="159.5" fill="none" stroke="#222"/>
<g class="tk"><text x="51" y="989.5">70</text><text x="51" y="1012.4">60</text><text x="51" y="1035.2">50</text><text x="51" y="1058.1">40</text><text x="51" y="1080.9">30</text><text x="51" y="1103.8">20</text><text x="51" y="1126.6">10</text><text x="51" y="1149">0</text></g>
<text class="yt" transform="rotate(-90 27 1060)" x="27" y="1060">km/h</text>
<text class="rt" transform="rotate(-90 720 1065)" x="720" y="1065">Windgeschwindigkeit</text>
<g class="dl"><text x="65.45" y="1159">1</text><text x="86.35" y="1159">2</text><text x="107.26" y="1159">3</text><text x="128.16" y="1159">4</text><text x="149.06" y="1159">5</text><text x="169.97" y="1159">6</text><text x="190.87" y="1159">7</text><text x="211.77" y="1159">8</text><text x="232.68" y="1159">9</text><text x="253.58" y="1159">10</text><text x="274.48" y="1159">11</text><text x="295.39" y="1159">12</text><text x="316.29" y="1159">13</text><text x="337.19" y="1159">14</text><text x="358.1" y="1159">15</text><text x="379" y="1159">16</text><text x="399.9" y="1159">17</text><text x="420.8" y="1159">18</text><text x="441.7" y="1159">19</text><text x="462.6" y="1159">20</text><text x="483.5" y="1159">21</text><text x="504.4" y="1159">22</text><text x="525.3" y="1159">23</text><text x="546.2" y="1159">24</text><text x="567.1" y="1159">25</text><text x="588" y="1159">26</text><text x="608.9" y="1159">27</text><text x="629.8" y="1159">28</text><text x="650.7" y="1159">29</text><text x="671.6" y="1159">30</text><text x="692.5" y="1159">31</text></g>

<text x="364" y="1171" text-anchor="middle" style="font-size:11px;fill:#999">Datenbasis: Deutscher Wetterdienst, dwd.de | Meteogramm erstellt von mtwetter.de | 2025-10-19T03:28:22Z</text>
</svg>
</body></html>
